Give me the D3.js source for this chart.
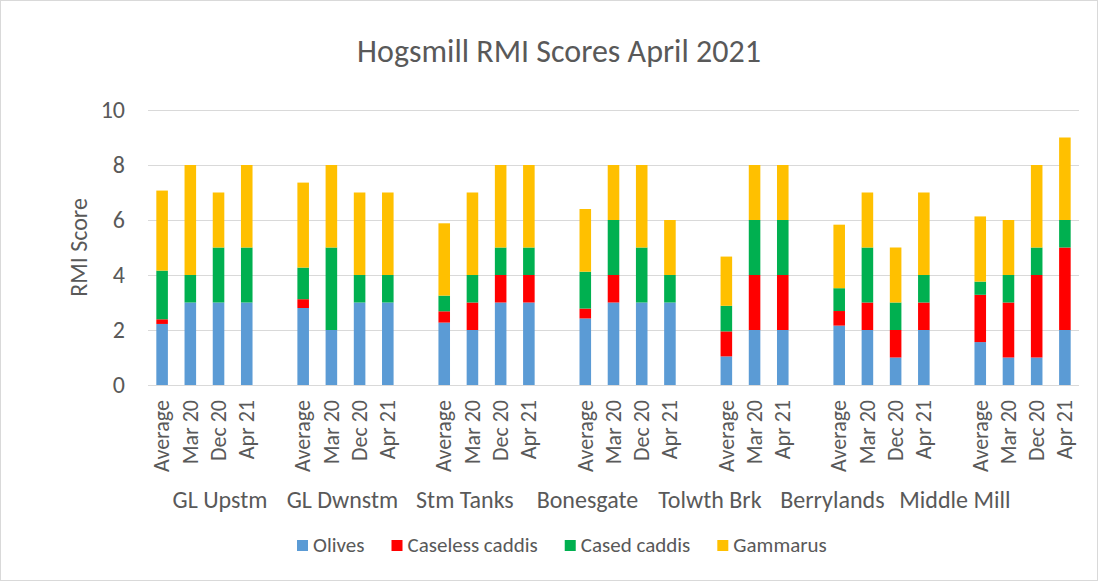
<!DOCTYPE html>
<html>
<head>
<meta charset="utf-8">
<script src="https://cdn.jsdelivr.net/npm/d3@7"></script>
<style>
body { margin: 0; background: #fff; }
text { font-family: Carlito, "Open Sans", sans-serif; fill: #595959; }
</style>
</head>
<body>
<script>
// sites and the sample dates under each
var groups = ["GL Upstm", "GL Dwnstm", "Stm Tanks", "Bonesgate", "Tolwth Brk", "Berrylands", "Middle Mill"]
var dates = [
  ["Average", "Mar 20", "Dec 20", "Apr 21"],
  ["Average", "Mar 20", "Dec 20", "Apr 21"],
  ["Average", "Mar 20", "Dec 20", "Apr 21"],
  ["Average", "Mar 20", "Dec 20", "Apr 21"],
  ["Average", "Mar 20", "Apr 21"],
  ["Average", "Mar 20", "Dec 20", "Apr 21"],
  ["Average", "Mar 20", "Dec 20", "Apr 21"]
]
var seriesNames = ["Olives", "Caseless caddis", "Cased caddis", "Gammarus"]
var colors = ["#5b9bd5", "#ff0000", "#00b050", "#ffc000"]

// one value per bar, in the order of the bars
var olives   = [2.22,3,3,3, 2.8,2,3,3, 2.27,2,3,3, 2.42,3,3,3, 1.04,2,2, 2.16,2,1,2, 1.56,1,1,2]
var caseless = [0.17,0,0,0, 0.32,0,0,0, 0.41,1,1,1, 0.36,1,0,0, 0.91,2,2, 0.53,1,1,1, 1.72,2,3,3]
var cased    = [1.77,1,2,2, 1.15,3,1,1, 0.57,1,1,1, 1.34,2,2,1, 0.93,2,2, 0.83,2,1,1, 0.48,1,1,1]
var gammarus = [2.91,4,2,3, 3.09,3,3,3, 2.63,3,3,3, 2.28,2,3,2, 1.79,2,2, 2.31,2,2,3, 2.37,2,3,3]
var yTicks = [0, 2, 4, 6, 8, 10]

var width = 1098, height = 581
var plotLeft = 148, plotRight = 1079, plotTop = 110, plotBottom = 385

var svg = d3.select("body").append("svg")
  .attr("width", width).attr("height", height)

svg.append("rect")
  .attr("x", 0.5).attr("y", 0.5)
  .attr("width", width - 1).attr("height", height - 1)
  .attr("fill", "#fff").attr("stroke", "#d9d9d9")

// build slots: bars plus an empty separator between sites
var slots = []
var bars = []
var k = 0
groups.forEach(function(g, gi){
  dates[gi].forEach(function(d){
    var key = g + "|" + d
    slots.push(key)
    bars.push({key: key, group: g, date: d, values: [olives[k], caseless[k], cased[k], gammarus[k]]})
    k++
  })
  if (gi < groups.length - 1) slots.push("gap" + gi)
})

var x = d3.scaleBand().domain(slots).range([plotLeft, plotRight])
  .paddingInner(0.59).paddingOuter(0.295)
var y = d3.scaleLinear().domain([0, 10]).range([plotBottom, plotTop])

// gridlines
svg.append("g").selectAll("line")
  .data(yTicks).enter().append("line")
  .attr("x1", plotLeft).attr("x2", plotRight)
  .attr("y1", function(d){ return y(d) + 0.5 }).attr("y2", function(d){ return y(d) + 0.5 })
  .attr("stroke", "#d9d9d9").attr("stroke-width", 1)

svg.append("g").selectAll("text")
  .data(yTicks).enter().append("text")
  .attr("x", 125).attr("y", function(d){ return y(d) })
  .attr("dy", "0.33em").attr("text-anchor", "end")
  .style("font-size", "24px")
  .text(function(d){ return d })

// stacked bars
var stacked = d3.stack()
  .keys([0, 1, 2, 3])
  .value(function(d, key){ return d.values[key] })(bars)

svg.append("g").selectAll("g")
  .data(stacked).enter().append("g")
  .attr("fill", function(d, i){ return colors[i] })
  .selectAll("rect")
  .data(function(d){ return d }).enter().append("rect")
  .attr("x", function(d){ return x(d.data.key) })
  .attr("width", x.bandwidth())
  .attr("y", function(d){ return y(d[1]) })
  .attr("height", function(d){ return y(d[0]) - y(d[1]) })

// date labels, rotated
svg.append("g").selectAll("text")
  .data(bars).enter().append("text")
  .attr("transform", function(d){
    return "translate(" + (x(d.key) + x.bandwidth() / 2) + ",400) rotate(-90)"
  })
  .attr("dy", "0.33em").attr("text-anchor", "end")
  .style("font-size", "22px")
  .text(function(d){ return d.date })

// site labels
var xg = d3.scalePoint().domain(groups)
  .range([plotLeft + 2.55 * x.step(), plotLeft + 28.6 * x.step()])
svg.append("g").selectAll("text")
  .data(groups).enter().append("text")
  .attr("x", function(d){ return xg(d) }).attr("y", 508)
  .attr("text-anchor", "middle")
  .style("font-size", "24px")
  .text(function(d){ return d })

// title and axis title
svg.append("text")
  .attr("x", 559).attr("y", 62)
  .attr("text-anchor", "middle")
  .style("font-size", "32px")
  .text("Hogsmill RMI Scores April 2021")

svg.append("text")
  .attr("transform", "translate(87," + ((plotTop + plotBottom) / 2) + ") rotate(-90)")
  .attr("text-anchor", "middle")
  .style("font-size", "24px")
  .text("RMI Score")

// legend
var legend = svg.append("g")
var lx = 297
seriesNames.forEach(function(name, i){
  legend.append("rect")
    .attr("x", lx).attr("y", 540)
    .attr("width", 11).attr("height", 11)
    .attr("fill", colors[i])
  var t = legend.append("text")
    .attr("x", lx + 16).attr("y", 552)
    .style("font-size", "21px")
    .text(name)
  lx = lx + 16 + t.node().getComputedTextLength() + 27
})
</script>
</body>
</html>
